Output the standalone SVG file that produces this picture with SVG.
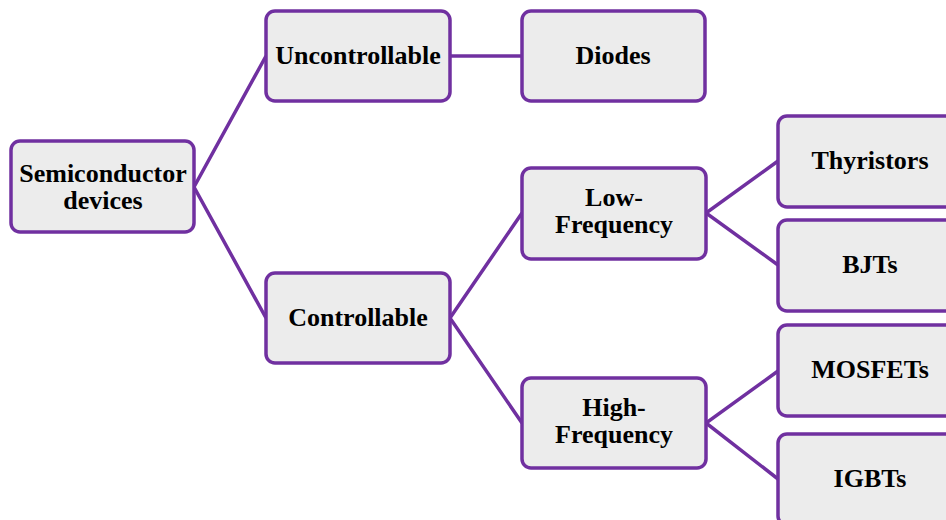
<svg xmlns="http://www.w3.org/2000/svg" width="946" height="520" viewBox="0 0 946 520">
<style>
.box{fill:#ECECEC;stroke:#7030A0;stroke-width:3.5}
.lbl{font-family:"Liberation Serif","Times New Roman",serif;font-weight:bold;font-size:26px;fill:#000;text-anchor:middle}
.conn{stroke:#7030A0;stroke-width:3.5;fill:none}
</style>
<rect width="946" height="520" fill="#fff"/>
<g id="connectors" class="conn">
<polyline points="266,56 194,187 266,318"/>
<line x1="450" y1="56" x2="522" y2="56"/>
<polyline points="522,213 450,318 522,423"/>
<polyline points="778,161 706,213 778,265"/>
<polyline points="778,371 706,423 778,479"/>
</g>
<g id="semiconductor">
<rect class="box" x="11" y="141" width="183" height="91" rx="9"/>
<text class="lbl" x="103" y="182">Semiconductor</text>
<text class="lbl" x="103" y="209">devices</text>
</g>
<g id="uncontrollable">
<rect class="box" x="266" y="11" width="184" height="90" rx="9"/>
<text class="lbl" x="358" y="64">Uncontrollable</text>
</g>
<g id="diodes">
<rect class="box" x="522" y="11" width="183" height="90" rx="9"/>
<text class="lbl" x="613" y="64">Diodes</text>
</g>
<g id="controllable">
<rect class="box" x="266" y="273" width="184" height="90" rx="9"/>
<text class="lbl" x="358" y="326">Controllable</text>
</g>
<g id="low-frequency">
<rect class="box" x="522" y="168" width="184" height="91" rx="9"/>
<text class="lbl" x="614" y="206">Low-</text>
<text class="lbl" x="614" y="233">Frequency</text>
</g>
<g id="high-frequency">
<rect class="box" x="522" y="378" width="184" height="90" rx="9"/>
<text class="lbl" x="614" y="416">High-</text>
<text class="lbl" x="614" y="443">Frequency</text>
</g>
<g id="thyristors">
<rect class="box" x="778" y="116" width="184" height="91" rx="9"/>
<text class="lbl" x="870" y="169">Thyristors</text>
</g>
<g id="bjts">
<rect class="box" x="778" y="220" width="184" height="91" rx="9"/>
<text class="lbl" x="870" y="273">BJTs</text>
</g>
<g id="mosfets">
<rect class="box" x="778" y="325" width="184" height="91" rx="9"/>
<text class="lbl" x="870" y="378">MOSFETs</text>
</g>
<g id="igbts">
<rect class="box" x="778" y="434" width="184" height="91" rx="9"/>
<text class="lbl" x="870" y="487">IGBTs</text>
</g>
</svg>
